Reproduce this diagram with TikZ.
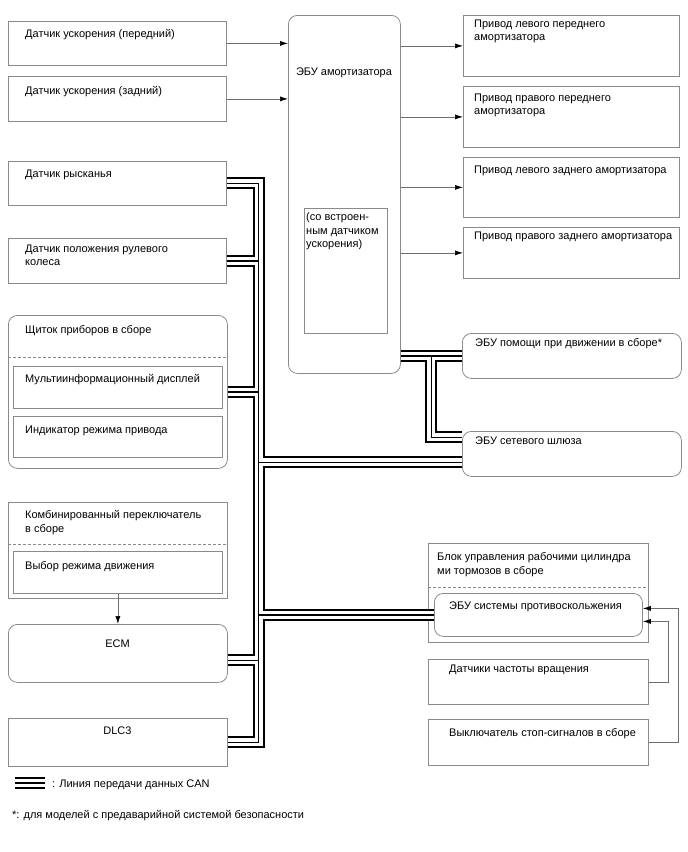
\documentclass[tikz,border=0pt]{standalone}
\usepackage{fontspec}
\setmainfont{Liberation Sans}
\usetikzlibrary{arrows.meta,calc,positioning}
\definecolor{cerceveGri}{HTML}{8A8A8A}
\definecolor{okGri}{HTML}{6E6E6E}
\newcommand{\yazi}{\fontsize{11}{13.5}\selectfont}

\begin{document}
\begin{tikzpicture}[x=1pt,y=-1pt,
  kutu/.style 2 args={draw=cerceveGri,line width=0.8pt,anchor=north west,inner sep=0pt,minimum width=#1,minimum height=#2},
  ykutu/.style 2 args={kutu={#1}{#2},rounded corners=9pt},
  etiket/.style={anchor=north west,inner sep=0pt,align=left,font=\yazi,execute at begin node=\strut,yshift=9.45pt},
  ortaEtiket/.style={anchor=base,inner sep=0pt,font=\yazi},
  ayrac/.style={draw=cerceveGri,line width=0.6pt,dash pattern=on 3pt off 2pt},
  ok/.style={draw=okGri,line width=0.7pt,-{Latex[length=8pt,width=5pt,color=black]}}]
\useasboundingbox (0,0) rectangle (688,852);
% sol sutun
\node[kutu={218}{44}] (dOn) at (8,21) {};
\node[kutu={218}{45}] (dArka) at (8,76) {};
\node[kutu={218}{44}] (dYaw) at (8,161) {};
\node[kutu={218}{45}] (dDir) at (8,238) {};
\node[ykutu={219}{153}] (kombi) at (8,315) {};
\node[kutu={209}{42}] (mid) at (13,366) {};
\node[kutu={209}{41}] (ind) at (13,416) {};
\node[kutu={219}{96}] (sw) at (8,502) {};
\node[kutu={209}{42}] (sec) at (13,551) {};
\node[ykutu={219}{58}] (ecm) at (8,624) {};
\node[kutu={219}{48}] (dlc) at (8,718) {};
\draw[ayrac] (8,357) -- (227,357);
\draw[ayrac] (8,544) -- (227,544);
\node[etiket] (tOn) at (25,37) {Датчик ускорения (передний)};
\node[etiket] (tArka) at (25,94) {Датчик ускорения (задний)};
\node[etiket] (tYaw) at (25,177) {Датчик рысканья};
\node[etiket] (tDir) at (25,254) {Датчик положения рулевого\\колеса};
\node[etiket] (tKombi) at (25,333) {Щиток приборов в сборе};
\node[etiket] (tMid) at (25,382) {Мультиинформационный дисплей};
\node[etiket] (tInd) at (25,433) {Индикатор режима привода};
\node[etiket] (tSw) at (25,520) {Комбинированный переключатель\\в сборе};
\node[etiket] (tSec) at (25,569) {Выбор режима движения};
\node[ortaEtiket] (tEcm) at (117.5,647) {ECM};
\node[ortaEtiket] (tDlc) at (117.5,734) {DLC3};
% orta
\node[ykutu={112}{358}] (amort) at (288,15) {};
\node[kutu={83}{125}] (ic) at (304,208) {};
\node[ortaEtiket] (tAmort) at (344,75) {ЭБУ амортизатора};
\node[etiket] (tIc) at (306,222) {(со встроен-\\ным датчиком\\ускорения)};
% sag sutun
\node[kutu={216}{61}] (r1) at (463,15) {};
\node[kutu={216}{61}] (r2) at (463,86) {};
\node[kutu={216}{60}] (r3) at (463,157) {};
\node[kutu={216}{51}] (r4) at (463,227) {};
\node[ykutu={219}{45}] (yardim) at (462,333) {};
\node[ykutu={219}{45}] (agkap) at (462,431) {};
\node[kutu={220}{99}] (fren) at (428,543) {};
\node[ykutu={208}{43}] (abs) at (434,593) {};
\node[kutu={220}{45}] (hiz) at (428,659) {};
\node[kutu={220}{46}] (stop) at (428,719) {};
\draw[ayrac] (428,587) -- (648,587);
\node[etiket] (tR1) at (474,29) {Привод левого переднего\\амортизатора};
\node[etiket] (tR2) at (474,103) {Привод правого переднего\\амортизатора};
\node[etiket] (tR3) at (474,173) {Привод левого заднего амортизатора};
\node[etiket] (tR4) at (474,239) {Привод правого заднего амортизатора};
\node[etiket] (tYardim) at (475,346) {ЭБУ помощи при движении в сборе*};
\node[etiket] (tAgkap) at (475,444) {ЭБУ сетевого шлюза};
\node[etiket] (tFren) at (437,562) {Блок управления рабочими цилиндра\\ми тормозов в сборе};
\node[etiket] (tAbs) at (449,609) {ЭБУ системы противоскольжения};
\node[etiket] (tHiz) at (449,672) {Датчики частоты вращения};
\node[etiket] (tStop) at (449,736) {Выключатель стоп-сигналов в сборе};
% oklar
\draw[ok] (dOn.east) -- (dOn.east -| amort.west);
\draw[ok] (dArka.east) -- (dArka.east -| amort.west);
\foreach \r in {r1,r2,r3,r4}
  \draw[ok] (amort.east |- \r.west) -- (\r.west);
\draw[ok] (sec.south) -- (ecm.north);
\draw[ok] (hiz.east) -- ++(20,0) |- ([yshift=-6.5pt]abs.east);
\draw[ok] (stop.east) -- ++(30,0) |- ([yshift=6.5pt]abs.east);
% CAN hatlari
\coordinate (govde) at (258.5,0);
\coordinate (ecmUc) at ([yshift=-7pt]ecm.east);
\coordinate (gw1) at ([yshift=-8.5pt]agkap.west);
\coordinate (gw2) at ([yshift=16.5pt]agkap.west);
\coordinate (dal) at ($(amort.east |- yardim.west)!0.5!(yardim.west)$);
\coordinate (lej1) at (15,783);
\coordinate (lej2) at (45,783);
\foreach \kalin/\renk in {12pt/black,8pt/white,1.2pt/black}{
  \draw[line width=\kalin,\renk]
    (dYaw.east) -| (govde |- dlc.east) -- (dlc.east)
    (dDir.east) -- (dDir.east -| govde)
    (kombi.east) -- (kombi.east -| govde)
    (ecmUc) -- (ecmUc -| govde)
    (govde |- gw1) -- (gw1)
    (govde |- abs.west) -- (abs.west)
    (amort.east |- yardim.west) -- (yardim.west)
    (dal) |- (gw2)
    (lej1) -- (lej2);
}
\node[anchor=base west,inner sep=0pt,font=\yazi] (tLej) at (52,787) {: Линия передачи данных CAN};
\node[anchor=base west,inner sep=0pt,font=\yazi] (tNot) at (12,818) {*: для моделей с предаварийной системой безопасности};
\end{tikzpicture}
\end{document}
